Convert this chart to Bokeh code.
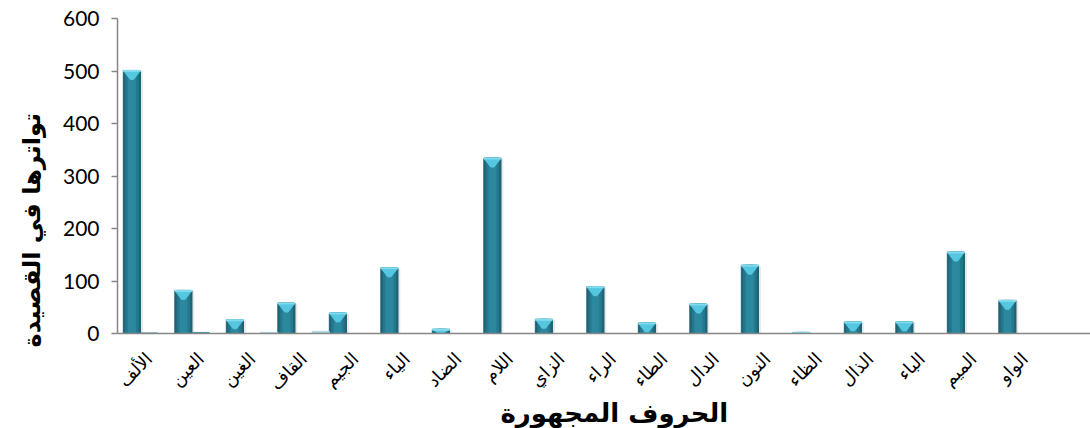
import numpy as np
from math import pi
from bokeh.plotting import figure
from bokeh.models import Range1d, FixedTicker, Title
from bokeh.embed import file_html
from bokeh.resources import INLINE

categories = ["الألف", "العين", "الغين", "القاف", "الجيم", "الياء", "الضاد", "اللام", "الزاي",
              "الراء", "الطاء", "الدال", "النون", "الظاء", "الذال", "الباء", "الميم", "الواو"]
series_main = [501, 82, 26, 58, 39, 125, 8, 334, 27, 89, 20, 56, 130, 2, 22, 22, 155, 63]
series_mid = [1, 2, 0, 0, 0, 0, 0, 0, 0, 0, 0, 0, 0, 0, 0, 0, 0, 0]
series_right = [0, 0, 2, 4, 0, 0, 0, 0, 0, 0, 0, 0, 0, 0, 0, 0, 0, 0]
y_ticks = [0, 100, 200, 300, 400, 500, 600]
x_title = "الحروف المجهورة"
y_title = "تواترها في القصيدة"

n = len(categories)
idx = np.arange(n)
bw = 1.0 / 3.0
c_main = idx + bw / 2
c_mid = idx + 0.5
c_right = idx + 1 - bw / 2
vals = np.array(series_main, dtype=float)

p = figure(width=1090, height=428, x_range=Range1d(-0.113, 18.78), y_range=Range1d(0, 600),
           output_backend="svg", toolbar_location=None,
           min_border_left=117, min_border_right=0, min_border_top=18, min_border_bottom=95)
p.outline_line_color = None
p.grid.grid_line_color = None
p.background_fill_color = "white"
p.border_fill_color = "white"

# soft shadow
p.vbar(x=c_main + 0.035, top=np.maximum(vals - 2, 0), width=bw, color="#e4e4e4", alpha=0.8)

# bar bodies (layered for cylindrical look)
p.vbar(x=c_main, top=vals, width=bw, color="#1f6476")
p.vbar(x=c_main, top=vals, width=bw * 0.72, color="#26788d")
p.vbar(x=c_main, top=vals, width=bw * 0.4, color="#2c889f")

# top bevel (light triangle)
depth = np.minimum(vals, 17.0)
xs = [[c - bw / 2, c + bw / 2, c + bw / 2 * 0.2, c - bw / 2 * 0.2] for c in c_main]
ys = [[v, v, v - d, v - d] for v, d in zip(vals, depth)]
p.patches(xs=xs, ys=ys, color="#55c7e0")
p.vbar(x=c_main, top=vals, bottom=np.maximum(vals - 1.6, 0), width=bw, color="#86dbee")

p.vbar(x=c_mid, top=series_mid, width=bw, color="#3f91a7")
p.vbar(x=c_right, top=series_right, width=bw, color="#a9d6e5")

# axes
ya = p.yaxis[0]
ya.ticker = FixedTicker(ticks=y_ticks)
ya.axis_line_color = "#868686"
ya.axis_line_width = 1.5
ya.major_tick_line_color = "#868686"
ya.major_tick_line_width = 1.5
ya.major_tick_out = 6
ya.major_tick_in = 0
ya.minor_tick_line_color = None
ya.major_label_text_font = "Lato"
ya.major_label_text_font_size = "21px"
ya.major_label_text_color = "black"
ya.major_label_standoff = 12

xa = p.xaxis[0]
xa.ticker = FixedTicker(ticks=list(c_mid))
xa.major_label_overrides = {float(c): lab for c, lab in zip(c_mid, categories)}
xa.major_label_orientation = pi / 4
xa.axis_line_color = "#868686"
xa.axis_line_width = 1.5
xa.major_tick_line_color = None
xa.minor_tick_line_color = None
xa.major_label_text_font = "DejaVu Sans"
xa.major_label_text_font_size = "18px"
xa.major_label_text_color = "black"
xa.major_label_standoff = 16

p.add_layout(Title(text=x_title, align="left", offset=383, standoff=-18,
                   text_font="DejaVu Sans", text_font_style="bold", text_font_size="26px",
                   text_color="black"), "below")
p.add_layout(Title(text=y_title, align="left", offset=-14, standoff=28,
                   text_font="DejaVu Sans", text_font_style="bold", text_font_size="24px",
                   text_color="black"), "left")

open("out.html", "w").write(file_html(p, INLINE))
